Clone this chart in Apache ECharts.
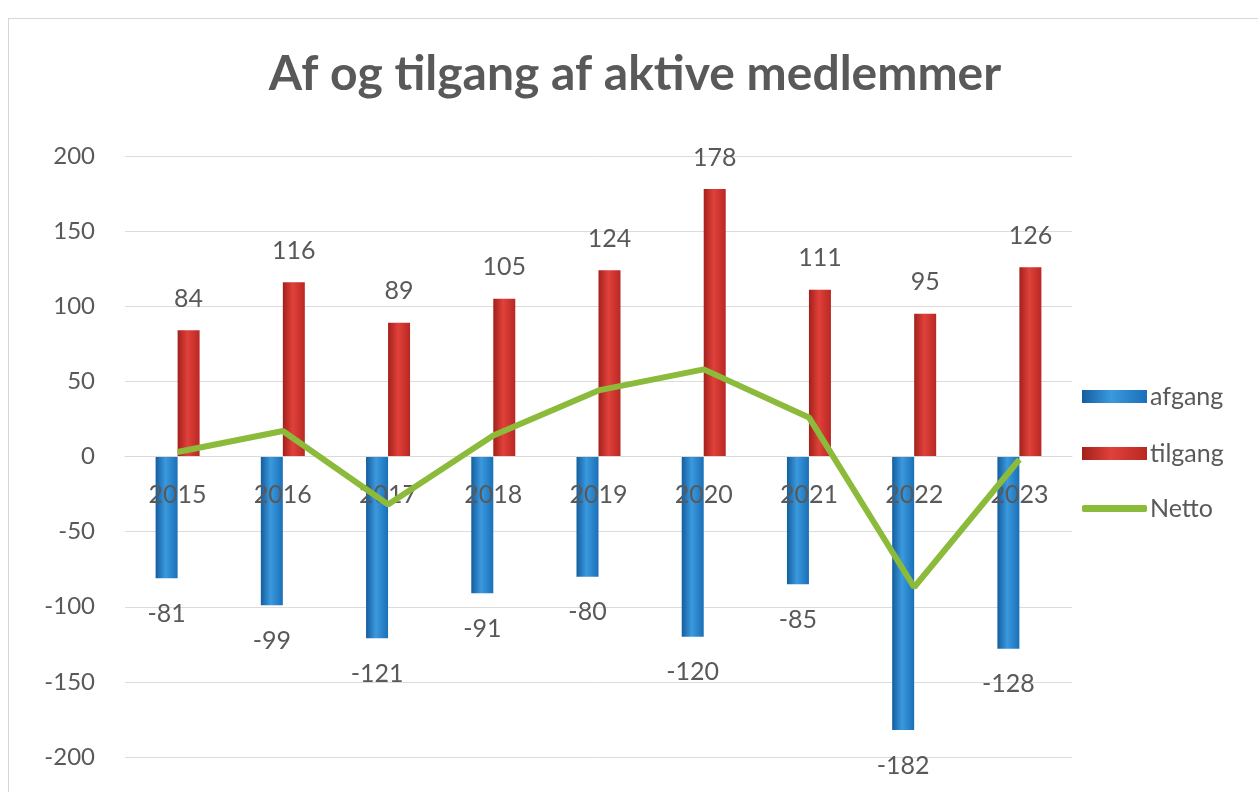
<!DOCTYPE html>
<html>
<head>
<meta charset="utf-8">
<script src="https://cdn.jsdelivr.net/npm/echarts@6/dist/echarts.min.js"></script>
<style>
  html, body { margin: 0; padding: 0; background: #fff; }
  #frame { position: absolute; left: 8px; top: 18px; width: 1260px; height: 790px; border: 1px solid #d6d6d6; box-sizing: border-box; }
  #chart { width: 1258px; height: 792px; position: absolute; left: 0; top: 0; }
</style>
</head>
<body>
<div id="frame"></div>
<div id="chart"></div>
<script>
// data
const years = ["2015", "2016", "2017", "2018", "2019", "2020", "2021", "2022", "2023"];
const afgang = [-81, -99, -121, -91, -80, -120, -85, -182, -128];
const tilgang = [84, 116, 89, 105, 124, 178, 111, 95, 126];
const netto = [3, 17, -32, 14, 44, 58, 26, -87, -2];
const yTicks = { min: -200, max: 200, step: 50 };

const txt = "#595959";
const font = "Lato";

const chart = echarts.init(document.getElementById("chart"));

// glossy look for the bars
function barColor(dark, mid, light) {
  return new echarts.graphic.LinearGradient(0, 0, 1, 0, [
    { offset: 0, color: dark },
    { offset: 0.45, color: light },
    { offset: 1, color: mid }
  ]);
}

function legendAt(name, top, h, icon) {
  return {
    data: [name],
    left: 1077,
    top: top,
    itemWidth: 65,
    itemHeight: h,
    itemGap: 0,
    icon: icon,
    textStyle: { color: txt, fontSize: 25, fontFamily: font, padding: [0, 0, 0, -2] }
  };
}

const option = {
  animation: false,
  title: {
    text: "Af og tilgang af aktive medlemmer",
    left: 630,
    textAlign: "center",
    top: 46,
    textStyle: { color: txt, fontSize: 48, fontWeight: "bold", fontFamily: font }
  },
  legend: [
    legendAt("afgang", 379, 13, "rect"),
    legendAt("tilgang", 436, 13, "rect"),
    legendAt("Netto", 491, 7, "roundRect")
  ],
  grid: { left: 125, right: 186, top: 156, bottom: 35, outerBoundsMode: "none" },
  xAxis: {
    type: "category",
    data: years,
    offset: -301,
    axisLine: { onZero: false, lineStyle: { color: "#d9d9d9" } },
    axisTick: { show: false },
    axisLabel: { color: txt, fontSize: 25, fontFamily: font, margin: 26 },
    z: 3
  },
  yAxis: {
    type: "value",
    min: yTicks.min,
    max: yTicks.max,
    interval: yTicks.step,
    axisLine: { show: false },
    axisTick: { show: false },
    axisLabel: { color: txt, fontSize: 24, fontFamily: font, margin: 30 },
    splitLine: { lineStyle: { color: "#dcdcdc" } }
  },
  series: [
    {
      name: "afgang",
      type: "bar",
      data: afgang,
      barWidth: 22,
      barGap: "0%",
      itemStyle: { color: barColor("#145e9e", "#1a70b8", "#3b99de") },
      label: {
        show: true, position: "bottom", distance: 23,
        color: txt, fontSize: 25, fontFamily: font
      },
      z: 2
    },
    {
      name: "tilgang",
      type: "bar",
      data: tilgang,
      barWidth: 22,
      itemStyle: { color: barColor("#a3201c", "#b92824", "#e0413a") },
      label: {
        show: true, position: "top", distance: 19,
        color: txt, fontSize: 25, fontFamily: font
      },
      z: 2
    },
    {
      name: "Netto",
      type: "line",
      data: netto,
      symbol: "none",
      lineStyle: { color: "#8cbb3c", width: 6 },
      itemStyle: { color: "#8cbb3c" },
      z: 5
    }
  ]
};

chart.setOption(option);
</script>
</body>
</html>
